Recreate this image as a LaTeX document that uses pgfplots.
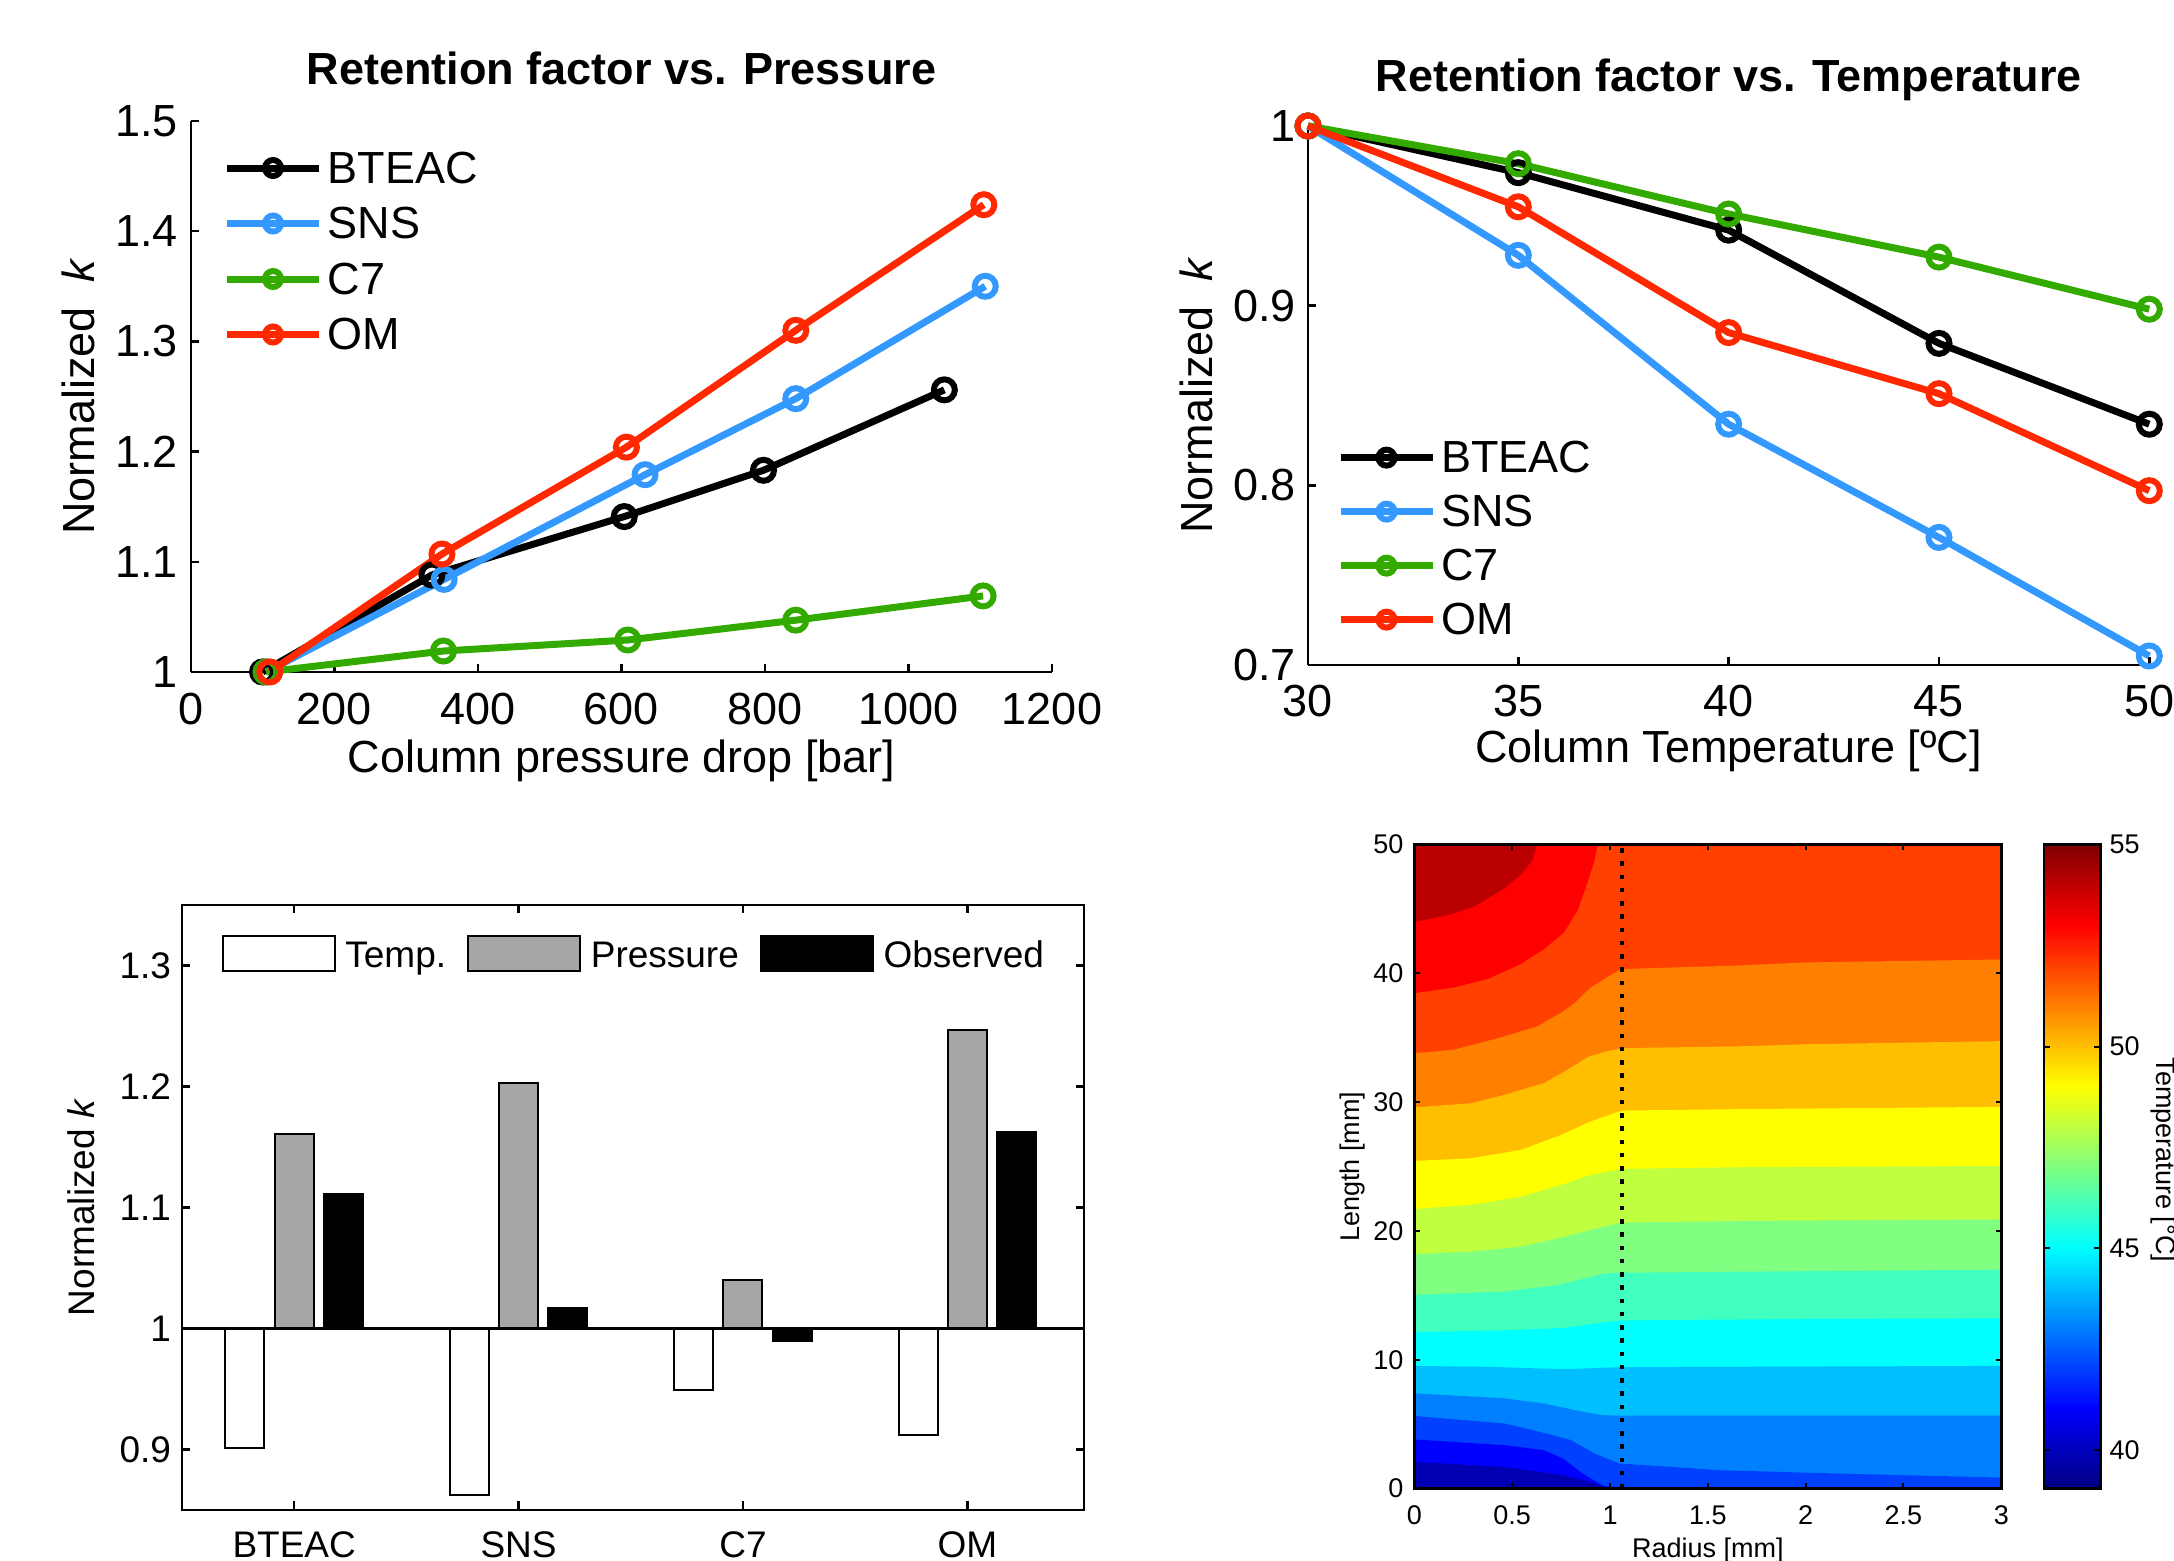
\documentclass[border=0pt]{standalone}
\usepackage{fontspec}
\setmainfont{Liberation Sans}
\usepackage{pgfplots}
\pgfplotsset{compat=1.18}
\newcommand\fA{\fontsize{9}{10.8}\selectfont}
\newcommand\fB{\fontsize{7.4}{8.9}\selectfont}
\newcommand\fC{\fontsize{5.4}{6.5}\selectfont}
\definecolor{cSNS}{RGB}{51,153,255}
\definecolor{cC7}{RGB}{51,170,0}
\definecolor{cOM}{RGB}{255,40,0}
\definecolor{cPr}{RGB}{166,166,166}
\definecolor{j0}{rgb}{0,0,0.70}
\definecolor{j1}{rgb}{0,0,1}
\definecolor{j2}{rgb}{0,0.25,1}
\definecolor{j3}{rgb}{0,0.5,1}
\definecolor{j4}{rgb}{0,0.75,1}
\definecolor{j5}{rgb}{0,1,1}
\definecolor{j6}{rgb}{0.25,1,0.75}
\definecolor{j7}{rgb}{0.5,1,0.5}
\definecolor{j8}{rgb}{0.75,1,0.25}
\definecolor{j9}{rgb}{1,1,0}
\definecolor{j10}{rgb}{1,0.75,0}
\definecolor{j11}{rgb}{1,0.5,0}
\definecolor{j12}{rgb}{1,0.25,0}
\definecolor{j13}{rgb}{1,0,0}
\definecolor{j14}{rgb}{0.73,0,0}
\pgfplotsset{
  linelegend/.style={legend image code/.code={\draw[mark repeat=2,mark phase=2,##1,mark size=1.6pt] plot coordinates {(0pt,0pt) (9.2pt,0pt) (18.4pt,0pt)};}},
  barleg/.style={legend image code/.code={\draw[##1] (0pt,-3.5pt) rectangle (22.4pt,3.5pt);}},
  kline/.style={line width=1.4pt, mark=o, mark size=2.1pt, mark options={solid, line width=1.2pt}},
  band/.style={draw=none, forget plot},
}
\begin{document}
\begin{tikzpicture}
\useasboundingbox (0,0) rectangle (434.8pt,312.2pt);

% ---------------- Panel 1 ----------------
\begin{axis}[
  at={(38.16pt,177.8pt)}, anchor=south west, scale only axis,
  width=172.24pt, height=110.2pt,
  xmin=0, xmax=1200, ymin=1, ymax=1.5,
  xtick={0,200,400,600,800,1000,1200}, ytick={1,1.1,1.2,1.3,1.4,1.5},
  axis lines=left, axis line style={-, line width=0.5pt},
  tick align=inside, major tick length=1.6pt, tick style={black, line width=0.5pt},
  clip=false,
  /pgf/number format/assume math mode=true,
  /pgf/number format/1000 sep={},
  ticklabel style={font=\fA, inner sep=0pt},
  xticklabel style={anchor=base, yshift=-10.5pt},
  yticklabel style={anchor=east, xshift=-2.4pt},
  title={Retention factor vs. Pressure},
  title style={font=\fA\bfseries, at={(axis description cs:0.5,1)}, anchor=base, yshift=1.2pt, inner sep=0pt},
  xlabel={Column pressure drop [bar]},
  xlabel style={font=\fA, at={(axis description cs:0.5,0)}, anchor=base, yshift=-20.2pt, inner sep=0pt},
  ylabel={Normalized\ \ \textit{k}},
  ylabel style={font=\fA, at={(axis description cs:-0.1115,0.5)}, anchor=base, inner sep=0pt},
  linelegend, legend cell align=left,
  legend style={draw=none, fill=none, inner sep=0pt, outer sep=0pt, row sep=0pt, font=\fA,
    at={(axis description cs:0.038,0.965)}, anchor=north west,
    nodes={inner sep=0pt, text height=8.6pt, text depth=2.5pt},
    /tikz/every odd column/.append style={column sep=1.0pt}},
]
\addplot[kline, black] coordinates {(100,1.000) (336,1.088) (604,1.141) (798,1.183) (1050,1.256)};
\addlegendentry{BTEAC}
\addplot[kline, cSNS] coordinates {(105,1.000) (353,1.084) (633,1.179) (843,1.248) (1107,1.350)};
\addlegendentry{SNS}
\addplot[kline, cC7] coordinates {(105,1.000) (352,1.019) (609,1.029) (843,1.047) (1104,1.069)};
\addlegendentry{C7}
\addplot[kline, cOM] coordinates {(110,1.000) (350,1.107) (607,1.204) (843,1.310) (1105,1.424)};
\addlegendentry{OM}
\end{axis}

% ---------------- Panel 2 ----------------
\begin{axis}[
  at={(261.6pt,179.2pt)}, anchor=south west, scale only axis,
  width=168.26pt, height=107.8pt,
  xmin=30, xmax=50, ymin=0.7, ymax=1,
  xtick={30,35,40,45,50}, ytick={0.7,0.8,0.9,1},
  axis lines=left, axis line style={-, line width=0.5pt},
  tick align=inside, major tick length=1.6pt, tick style={black, line width=0.5pt},
  clip=false,
  /pgf/number format/assume math mode=true,
  ticklabel style={font=\fA, inner sep=0pt},
  xticklabel style={anchor=base, yshift=-10.4pt},
  yticklabel style={anchor=east, xshift=-2.2pt},
  title={Retention factor vs. Temperature},
  title style={font=\fA\bfseries, at={(axis description cs:0.5,1)}, anchor=base, yshift=0.9pt, inner sep=0pt},
  xlabel={Column Temperature [ºC]},
  xlabel style={font=\fA, at={(axis description cs:0.5,0)}, anchor=base, yshift=-19.6pt, inner sep=0pt},
  ylabel={Normalized\ \ \textit{k}},
  ylabel style={font=\fA, at={(axis description cs:-0.1141,0.5)}, anchor=base, inner sep=0pt},
  linelegend, legend cell align=left,
  legend style={draw=none, fill=none, inner sep=0pt, outer sep=0pt, row sep=0pt, font=\fA,
    at={(axis description cs:0.0345,0.034)}, anchor=south west,
    nodes={inner sep=0pt, text height=8.45pt, text depth=2.35pt},
    /tikz/every odd column/.append style={column sep=1.0pt}},
]
\addplot[kline, black] coordinates {(30,1) (35,0.974) (40,0.942) (45,0.879) (50,0.834)};
\addlegendentry{BTEAC}
\addplot[kline, cSNS] coordinates {(30,1) (35,0.928) (40,0.834) (45,0.771) (50,0.705)};
\addlegendentry{SNS}
\addplot[kline, cC7] coordinates {(30,1) (35,0.979) (40,0.951) (45,0.927) (50,0.898)};
\addlegendentry{C7}
\addplot[kline, cOM] coordinates {(30,1) (35,0.955) (40,0.885) (45,0.851) (50,0.797)};
\addlegendentry{OM}
\end{axis}

% ---------------- Panel 3 ----------------
\begin{axis}[
  at={(36.4pt,10.2pt)}, anchor=south west, scale only axis,
  width=180.4pt, height=121pt,
  xmin=0.5, xmax=4.52, ymin=-0.15, ymax=0.35,
  xtick={1,2,3,4}, xticklabels={BTEAC,SNS,C7,OM},
  ytick={-0.1,0,0.1,0.2,0.3}, yticklabels={0.9,1,1.1,1.2,1.3},
  tick align=inside, major tick length=1.7pt, tick style={black, line width=0.5pt},
  axis line style={line width=0.5pt},
  ticklabel style={font=\fB, inner sep=0pt},
  xticklabel style={anchor=base, yshift=-9.5pt},
  yticklabel style={anchor=east, xshift=-2pt},
  ylabel={Normalized \textit{k}},
  ylabel style={font=\fB, at={(axis description cs:-0.0970,0.5)}, anchor=base, inner sep=0pt},
  legend columns=3, legend cell align=left,
  legend style={draw=none, fill=none, inner sep=0pt, outer sep=0pt, font=\fB,
    at={(axis description cs:0.044,0.9193)}, anchor=west,
    nodes={inner sep=0pt, text height=6pt, text depth=0.7pt},
    /tikz/every odd column/.append style={column sep=1.94pt},
    /tikz/every even column/.append style={column sep=4.2pt}},
  y filter/.expression={y-1},
]
\addplot[ybar, barleg, bar width=7.8pt, bar shift=-9.85pt, fill=white, draw=black, line width=0.4pt]
  coordinates {(1,0.901) (2,0.862) (3,0.949) (4,0.912)};
\addlegendentry{Temp.}
\addplot[ybar, barleg, bar width=7.8pt, bar shift=0pt, fill=cPr, draw=black, line width=0.4pt]
  coordinates {(1,1.161) (2,1.203) (3,1.040) (4,1.247)};
\addlegendentry{Pressure}
\addplot[ybar, barleg, bar width=7.8pt, bar shift=9.85pt, fill=black, draw=black, line width=0.4pt]
  coordinates {(1,1.111) (2,1.017) (3,0.990) (4,1.162)};
\addlegendentry{Observed}
\addplot[black, line width=0.5pt, forget plot] coordinates {(0.5,1) (4.52,1)};
\end{axis}

% ---------------- Panel 4 ----------------
\begin{axis}[
  at={(282.88pt,14.46pt)}, anchor=south west, scale only axis,
  width=117.38pt, height=128.82pt,
  xmin=0, xmax=3, ymin=0, ymax=50,
  xtick={0,0.5,1,1.5,2,2.5,3}, ytick={0,10,20,30,40,50},
  axis on top, tick align=inside, major tick length=1.1pt, tick style={black, line width=0.4pt},
  axis line style={line width=0.5pt},
  /pgf/number format/assume math mode=true,
  ticklabel style={font=\fC, inner sep=0pt},
  xticklabel style={anchor=base, yshift=-7.1pt},
  yticklabel style={anchor=east, xshift=-2pt},
  xlabel={Radius [mm]},
  xlabel style={font=\fC, at={(axis description cs:0.5,0)}, anchor=base, yshift=-13.7pt, inner sep=0pt},
  ylabel={Length [mm]},
  ylabel style={font=\fC, at={(axis description cs:-0.0929,0.5)}, anchor=base, inner sep=0pt},
  colormap/jet, point meta min=39.05, point meta max=55,
  colorbar,
  colorbar style={at={(parent axis.north east)}, anchor=north west,
    scale only axis, width=11.34pt, height=128.82pt,
    ytick={40,45,50,55}, tick align=inside, major tick length=1.3pt,
    ytick pos=both, yticklabel pos=right,
    /pgf/number format/assume math mode=true,
    yticklabel style={font=\fC, anchor=west, xshift=1.6pt, inner sep=0pt},
    tick style={black, line width=0.4pt}, axis line style={line width=0.5pt}},
]
\addplot[band, fill=j14] coordinates {(0,0) (0,50) (3,50) (3,0)} -- cycle;
\addplot[band, fill=j13] coordinates {(0,0) (0,44.0) (0.17,44.5) (0.31,45.2) (0.46,46.6) (0.545,47.65) (0.605,48.8) (0.627,50) (3,50) (3,0)} -- cycle;
\addplot[band, fill=j12] coordinates {(0,0) (0,38.46) (0.2,38.9) (0.375,39.56) (0.545,40.73) (0.665,41.9) (0.767,43.2) (0.835,44.9) (0.886,47.1) (0.92,48.7) (0.937,50) (3,50) (3,0)} -- cycle;
\addplot[band, fill=j11] coordinates {(0,0) (0,33.8) (0.2,34.07) (0.46,35.1) (0.63,35.9) (0.75,36.95) (0.82,37.7) (0.9,38.9) (1.04,40.2) (1.06,40.34) (1.64,40.6) (2,40.85) (3,41.08) (3,0)} -- cycle;
\addplot[band, fill=j10] coordinates {(0,0) (0,29.6) (0.29,29.92) (0.46,30.57) (0.665,31.5) (0.78,32.5) (0.886,33.5) (0.97,33.9) (1.06,34.2) (1.64,34.33) (2,34.5) (3,34.74) (3,0)} -- cycle;
\addplot[band, fill=j9] coordinates {(0,0) (0,25.44) (0.29,25.65) (0.545,26.3) (0.75,27.46) (0.9,28.5) (1.06,29.35) (1.64,29.46) (3,29.64) (3,0)} -- cycle;
\addplot[band, fill=j8] coordinates {(0,0) (0,21.71) (0.29,22.02) (0.545,22.67) (0.75,23.57) (0.9,24.35) (1.06,24.82) (1.64,24.95) (3,25.05) (3,0)} -- cycle;
\addplot[band, fill=j7] coordinates {(0,0) (0,18.19) (0.29,18.4) (0.545,18.78) (0.77,19.56) (0.9,20.08) (1.06,20.65) (1.64,20.78) (3,20.9) (3,0)} -- cycle;
\addplot[band, fill=j6] coordinates {(0,0) (0,15.04) (0.46,15.3) (0.73,15.8) (0.84,16.2) (0.97,16.7) (1.06,16.76) (1.64,16.84) (3,17.0) (3,0)} -- cycle;
\addplot[band, fill=j5] coordinates {(0,0) (0,12.16) (0.46,12.29) (0.76,12.47) (0.92,12.8) (1.05,13.06) (1.97,13.17) (3,13.22) (3,0)} -- cycle;
\addplot[band, fill=j4] coordinates {(0,0) (0,9.53) (0.4,9.45) (0.76,9.27) (1.05,9.43) (3,9.53) (3,0)} -- cycle;
\addplot[band, fill=j3] coordinates {(0,0) (0,7.4) (0.46,7.01) (0.66,6.62) (0.86,5.97) (0.96,5.71) (1.05,5.66) (3,5.67) (3,0)} -- cycle;
\addplot[band, fill=j2] coordinates {(0,0) (0,5.64) (0.46,5.06) (0.66,4.34) (0.8,3.77) (0.92,2.73) (1.05,1.95) (1.57,1.43) (2.17,1.17) (3,0.86) (3,0)} -- cycle;
\addplot[band, fill=j1] coordinates {(0,0) (0,3.82) (0.46,3.38) (0.66,2.99) (0.76,2.34) (0.86,1.17) (0.96,0.26) (1.05,0)} -- cycle;
\addplot[band, fill=j0] coordinates {(0,0) (0,2.08) (0.46,1.69) (0.76,1.04) (0.9,0.52) (1.0,0)} -- cycle;
\addplot[black, line width=0.7pt, dash pattern=on 0.9pt off 1.75pt, forget plot] coordinates {(1.06,0) (1.06,50)};
\end{axis}
\node[rotate=-90, anchor=base, font=\fC, inner sep=0pt] at (431.2pt,80.2pt) {Temperature [°C]};
\end{tikzpicture}
\end{document}
